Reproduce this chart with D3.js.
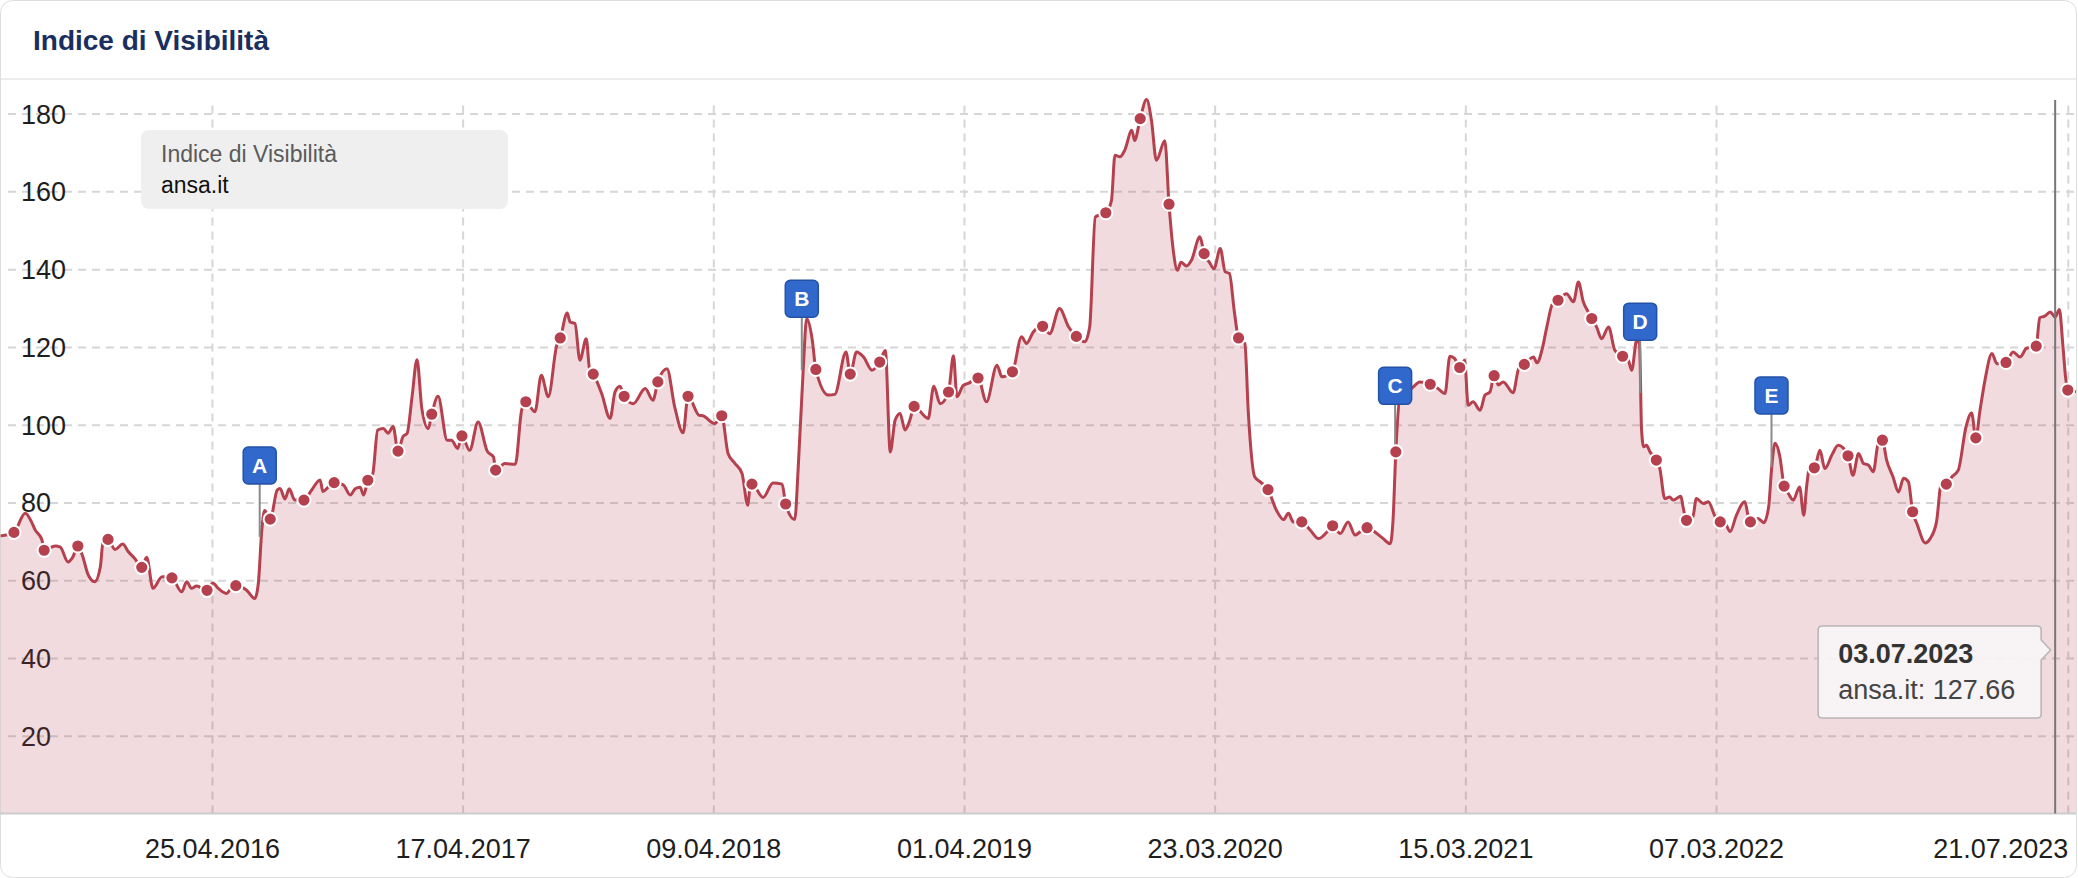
<!DOCTYPE html>
<html>
<head>
<meta charset="utf-8">
<script src="https://cdn.jsdelivr.net/npm/d3@7"></script>
<style>
  html, body { margin: 0; padding: 0; background: #fff; }
  svg { display: block; font-family: "Liberation Sans", Arial, Helvetica, sans-serif; }
</style>
</head>
<body>
<svg id="chart" width="2078" height="878"></svg>
<script>
// ---------------- DATA ----------------
const title = "Indice di Visibilità";
const seriesName = "ansa.it";

const dates = [
 "2015-06-29","2015-07-18","2015-08-03","2015-08-12","2015-08-17","2015-08-27","2015-08-30","2015-09-15","2015-09-22","2015-10-03",
 "2015-10-10","2015-10-17","2015-10-24","2015-10-31","2015-11-10","2015-11-18","2015-11-22","2015-11-29","2015-12-09","2015-12-20",
 "2015-12-28","2016-01-06","2016-01-16","2016-01-23","2016-02-01","2016-02-14","2016-02-28","2016-03-13","2016-03-20","2016-03-27",
 "2016-04-03","2016-04-18","2016-04-26","2016-05-04","2016-05-16","2016-05-21","2016-05-29","2016-06-13","2016-06-25","2016-06-30",
 "2016-07-05","2016-07-09","2016-07-17","2016-07-27","2016-07-31","2016-08-07","2016-08-13","2016-08-21","2016-09-03","2016-09-14",
 "2016-09-26","2016-09-30","2016-10-08","2016-10-16","2016-10-29","2016-11-08","2016-11-15","2016-11-22","2016-11-27","2016-12-03",
 "2016-12-10","2016-12-17","2016-12-25","2017-01-01","2017-01-08","2017-01-15","2017-01-22","2017-01-28","2017-02-04","2017-02-11",
 "2017-02-18","2017-02-27","2017-03-04","2017-03-13","2017-03-26","2017-04-01","2017-04-10","2017-04-16","2017-04-27","2017-05-09",
 "2017-05-22","2017-05-31","2017-06-03","2017-06-16","2017-07-01","2017-07-10","2017-07-16","2017-07-29","2017-08-07","2017-08-17",
 "2017-08-29","2017-09-03","2017-09-13","2017-09-17","2017-09-24","2017-10-01","2017-10-10","2017-10-15","2017-10-20","2017-11-01",
 "2017-11-13","2017-11-20","2017-11-27","2017-12-03","2017-12-16","2018-01-02","2018-01-13","2018-01-20","2018-02-02","2018-02-13",
 "2018-02-25","2018-03-04","2018-03-20","2018-03-25","2018-04-11","2018-04-21","2018-04-30","2018-05-10","2018-05-20","2018-05-28",
 "2018-05-31","2018-06-03","2018-06-19","2018-07-03","2018-07-16","2018-07-21","2018-08-03","2018-08-08","2018-08-15","2018-08-20",
 "2018-08-28","2018-09-02","2018-09-20","2018-09-29","2018-10-15","2018-10-21","2018-10-30","2018-11-09","2018-11-21","2018-12-02",
 "2018-12-10","2018-12-17","2018-12-24","2018-12-31","2019-01-07","2019-01-14","2019-01-20","2019-02-09","2019-02-17","2019-02-26",
 "2019-03-10","2019-03-17","2019-03-22","2019-03-31","2019-04-07","2019-04-21","2019-05-03","2019-05-18","2019-05-25","2019-06-09",
 "2019-06-22","2019-06-29","2019-07-09","2019-07-22","2019-08-01","2019-08-15","2019-08-28","2019-09-08","2019-09-20","2019-09-27",
 "2019-10-05","2019-10-11","2019-10-20","2019-10-28","2019-11-02","2019-11-09","2019-11-16","2019-11-26","2019-11-30","2019-12-08",
 "2019-12-17","2019-12-24","2019-12-31","2020-01-12","2020-01-18","2020-01-24","2020-01-30","2020-02-04","2020-02-12","2020-02-19",
 "2020-03-02","2020-03-08","2020-03-16","2020-03-22","2020-03-31","2020-04-07","2020-04-13","2020-04-20","2020-04-26","2020-05-05",
 "2020-05-10","2020-05-19","2020-05-27","2020-06-07","2020-06-19","2020-06-29","2020-07-06","2020-07-13","2020-07-25","2020-08-06",
 "2020-08-18","2020-08-30","2020-09-07","2020-09-18","2020-09-29","2020-10-09","2020-10-16","2020-10-26","2020-11-09","2020-11-18",
 "2020-11-28","2020-12-02","2020-12-06","2020-12-12","2020-12-21","2020-12-31","2021-01-09","2021-01-24","2021-02-04","2021-02-14",
 "2021-02-21","2021-02-28","2021-03-07","2021-03-14","2021-03-19","2021-03-26","2021-04-05","2021-04-12","2021-04-19","2021-04-25",
 "2021-05-01","2021-05-08","2021-05-22","2021-05-30","2021-06-07","2021-06-13","2021-06-20","2021-06-25","2021-07-02","2021-07-09",
 "2021-07-17","2021-07-25","2021-08-06","2021-08-16","2021-08-23","2021-08-30","2021-09-06","2021-09-11","2021-09-18","2021-09-25",
 "2021-10-05","2021-10-14","2021-10-25","2021-11-02","2021-11-07","2021-11-14","2021-11-18","2021-11-21","2021-11-24","2021-11-28",
 "2021-12-03","2021-12-12","2021-12-17","2021-12-24","2021-12-31","2022-01-05","2022-01-16","2022-01-19","2022-01-24","2022-02-02",
 "2022-02-07","2022-02-17","2022-02-24","2022-03-06","2022-03-13","2022-03-20","2022-03-27","2022-04-05","2022-04-17","2022-04-22",
 "2022-04-25","2022-05-06","2022-05-14","2022-05-21","2022-05-25","2022-05-30","2022-06-06","2022-06-12","2022-06-18","2022-06-25",
 "2022-07-04","2022-07-10","2022-07-14","2022-07-19","2022-07-25","2022-08-02","2022-08-09","2022-08-19","2022-08-28","2022-09-11",
 "2022-09-18","2022-09-26","2022-10-03","2022-10-10","2022-10-17","2022-10-24","2022-10-30","2022-11-05","2022-11-14","2022-11-22",
 "2022-11-29","2022-12-06","2022-12-12","2022-12-18","2022-12-30","2023-01-06","2023-01-15","2023-01-22","2023-01-29","2023-02-06",
 "2023-02-15","2023-02-26","2023-03-06","2023-03-12","2023-03-18","2023-03-25","2023-04-04","2023-04-11","2023-04-24","2023-05-04",
 "2023-05-14","2023-05-23","2023-06-06","2023-06-11","2023-06-18","2023-06-26","2023-07-03","2023-07-09","2023-07-14","2023-07-18",
 "2023-07-21","2023-08-02"
];

const values = [
 71.4,72.3,77.2,75.0,73.0,70.3,67.7,68.8,68.5,64.7,
 66.0,68.8,66.1,61.7,59.6,63.4,69.9,70.5,67.9,69.3,
 67.3,65.6,63.3,65.9,57.9,60.9,60.6,57.0,59.6,57.9,
 58.5,57.4,59.3,57.9,56.6,57.6,58.6,57.5,55.3,59.1,
 72.9,77.9,75.7,83.2,83.6,80.9,83.5,80.6,80.6,83.2,
 85.8,82.8,84.0,85.1,84.5,81.9,83.5,83.9,81.9,85.7,
 87.4,98.6,99.0,97.8,99.5,93.2,96.9,97.8,107.2,116.7,
 104.0,99.0,102.7,107.3,96.0,96.0,93.9,97.1,93.4,100.7,
 93.2,91.7,88.3,90.0,89.8,103.7,105.9,103.3,112.7,107.2,
 120.4,122.3,128.7,126.4,126.0,116.6,122.1,114.0,113.0,108.0,
 101.6,108.4,109.9,107.3,105.4,109.3,106.3,111.0,114.4,104.6,
 97.9,107.3,102.4,102.3,100.3,102.3,92.6,90.0,87.4,79.3,
 83.5,84.7,81.3,85.0,84.7,79.6,75.6,89.2,114.0,127.3,
 121.7,114.2,107.6,107.8,118.7,113.0,118.7,117.4,114.0,116.1,
 119.1,93.0,101.2,102.9,98.6,101.2,104.7,101.6,109.9,105.4,
 108.4,117.7,107.2,110.1,110.6,112.0,105.9,115.3,112.3,113.6,
 122.6,120.9,123.9,125.3,123.4,129.9,125.1,122.7,121.3,125.1,
 153.4,153.9,154.5,157.6,169.3,168.9,170.6,175.7,173.1,178.7,
 183.6,178.3,168.0,173.0,156.7,144.9,139.7,141.8,140.8,142.3,
 148.3,144.0,141.6,140.1,145.3,139.3,138.9,129.1,122.3,120.9,
 102.9,86.6,85.3,83.3,78.0,75.6,77.2,75.0,75.0,72.9,
 70.7,72.4,74.0,72.0,75.0,71.6,72.4,73.5,72.0,70.7,
 69.4,75.4,93.0,107.1,108.0,109.7,111.0,110.4,109.3,108.0,
 117.6,117.0,114.7,116.6,105.0,105.9,103.7,107.6,108.4,112.6,
 110.2,111.0,108.2,114.4,115.5,116.6,117.4,115.9,119.1,125.1,
 131.0,132.0,133.7,131.6,136.7,131.6,129.0,127.3,125.1,122.1,
 125.1,119.1,117.6,116.6,114.0,121.7,120.8,98.6,94.3,94.7,
 93.0,90.9,88.7,81.0,81.4,80.6,81.6,78.9,75.4,76.3,
 81.0,79.7,80.2,76.3,75.0,74.6,72.5,76.7,80.2,76.3,
 75.0,75.9,74.8,78.9,88.3,95.2,91.7,84.2,82.3,80.6,
 84.0,76.7,84.0,89.6,88.9,93.4,88.7,92.2,94.7,92.0,
 87.0,92.6,90.0,89.6,87.9,95.2,96.0,90.9,86.6,82.7,
 86.2,85.3,77.6,74.6,69.6,70.7,75.0,84.9,84.7,86.6,
 88.3,99.4,103.0,96.6,103.7,111.4,118.3,115.7,116.0,118.7,
 117.4,119.6,120.2,127.5,127.9,129.0,127.66,129.6,120.4,111.9,
 108.9,108.5
];

const markerDates = [
 "2015-07-18","2015-08-30","2015-10-17","2015-11-29","2016-01-16","2016-02-28","2016-04-18","2016-05-29","2016-07-17",
 "2016-09-03","2016-10-16","2016-12-03","2017-01-15","2017-03-04","2017-04-16","2017-06-03","2017-07-16","2017-09-03",
 "2017-10-20","2017-12-03","2018-01-20","2018-03-04","2018-04-21","2018-06-03","2018-07-21","2018-09-02","2018-10-21",
 "2018-12-02","2019-01-20","2019-03-10","2019-04-21","2019-06-09","2019-07-22","2019-09-08","2019-10-20","2019-12-08",
 "2020-01-18","2020-03-08","2020-04-26","2020-06-07","2020-07-25","2020-09-07","2020-10-26","2020-12-06","2021-01-24",
 "2021-03-07","2021-04-25","2021-06-07","2021-07-25","2021-09-11","2021-10-25","2021-12-12","2022-01-24","2022-03-13",
 "2022-04-25","2022-06-12","2022-07-25","2022-09-11","2022-10-30","2022-12-12","2023-01-29","2023-03-12","2023-04-24",
 "2023-06-06","2023-07-21"
];

const flagLetters = ["A","B","C","D","E"];
const flagDates   = ["2016-07-02","2018-08-13","2020-12-05","2021-11-19","2022-05-25"];
const flagValues  = [71.1, 114.0, 91.6, 108.1, 89.1];

const xTickDates = ["2016-04-25","2017-04-17","2018-04-09","2019-04-01","2020-03-23","2021-03-15","2022-03-07","2023-07-21"];
const yTicks = [20,40,60,80,100,120,140,160,180];
const xDomain = ["2015-06-29","2023-07-21"];
const yDomain = [0, 183.5];

const tooltipDate = "2023-07-03";

// ---------------- CHART ----------------
const W = 2078, H = 878;
const parse = d3.utcParse("%Y-%m-%d");
const fmt = d3.utcFormat("%d.%m.%Y");
const lineColor = "#b5404e";

const plot = {left: 0, right: 2076, top: 100, bottom: 813.5};

const x = d3.scaleUtc().domain(xDomain.map(parse)).range([0.6, 2067.8]);
const y = d3.scaleLinear().domain(yDomain).range([plot.bottom, plot.top]);

const data = dates.map((d, i) => ({date: parse(d), value: values[i]}));

const svg = d3.select("#chart");

// card
svg.append("rect").attr("x", 0.5).attr("y", 0.5).attr("width", 2076).attr("height", 877)
  .attr("rx", 12).attr("fill", "#fff").attr("stroke", "#dedede").attr("stroke-width", 1);
svg.append("line").attr("x1", 1).attr("x2", 2076).attr("y1", 79).attr("y2", 79)
  .attr("stroke", "#e6e6e6").attr("stroke-width", 1.5);
svg.append("text").attr("x", 33).attr("y", 50).text(title)
  .attr("font-size", 28).attr("font-weight", "bold").attr("fill", "#1a2f5e");

svg.append("defs").append("clipPath").attr("id", "plotclip")
  .append("rect").attr("x", plot.left).attr("y", plot.top - 10)
  .attr("width", plot.right - plot.left).attr("height", plot.bottom - plot.top + 10);

// y grid + labels
const gy = svg.append("g").attr("class", "y-axis")
  .call(d3.axisRight(y).tickValues(yTicks).tickSize(plot.right).tickFormat(d3.format("d")));
gy.select(".domain").remove();
gy.selectAll(".tick line").attr("stroke", "#d6d6d6").attr("stroke-width", 2).attr("stroke-dasharray", "8,6")
  .attr("x1", 8);
gy.selectAll(".tick text").attr("x", 21).attr("dy", "0.35em").attr("text-anchor", "start")
  .attr("font-size", 27).attr("fill", "#1e1e1e").attr("font-family", "Liberation Sans, Arial, sans-serif");

// x grid + labels
const gx = svg.append("g").attr("class", "x-axis").attr("transform", `translate(0,${plot.bottom})`)
  .call(d3.axisBottom(x).tickValues(xTickDates.map(parse)).tickSize(-(plot.bottom - plot.top)).tickFormat(fmt));
gx.select(".domain").remove();
gx.selectAll(".tick line").attr("stroke", "#d6d6d6").attr("stroke-width", 2).attr("stroke-dasharray", "8,6");
gx.selectAll(".tick text").attr("y", 44).attr("dy", 0)
  .attr("font-size", 27).attr("fill", "#1e1e1e").attr("font-family", "Liberation Sans, Arial, sans-serif")
  .attr("text-anchor", (d, i) => i === xTickDates.length - 1 ? "end" : "middle");

// area + line
const gPlot = svg.append("g").attr("clip-path", "url(#plotclip)");
const area = d3.area().x(d => x(d.date)).y0(y(0)).y1(d => y(d.value)).curve(d3.curveMonotoneX);
const line = d3.line().x(d => x(d.date)).y(d => y(d.value)).curve(d3.curveMonotoneX);
gPlot.append("path").datum(data).attr("d", area).attr("fill", lineColor).attr("fill-opacity", 0.19);
gPlot.append("path").datum(data).attr("d", line).attr("fill", "none")
  .attr("stroke", lineColor).attr("stroke-width", 3).attr("stroke-linejoin", "round");

// axis baseline
svg.append("line").attr("x1", 0).attr("x2", plot.right).attr("y1", plot.bottom).attr("y2", plot.bottom)
  .attr("stroke", "#cccccc").attr("stroke-width", 2);

// flags
const flags = flagLetters.map((l, i) => ({letter: l, date: parse(flagDates[i]), value: flagValues[i]}));
const gf = svg.append("g").selectAll("g").data(flags).join("g")
  .attr("transform", d => `translate(${x(d.date)},${y(d.value)})`);
gf.append("line").attr("x1", 0).attr("x2", 0).attr("y1", -53).attr("y2", 0)
  .attr("stroke", "#8a8a8a").attr("stroke-width", 2);
gf.append("rect").attr("x", -16.5).attr("y", -90).attr("width", 33).attr("height", 37).attr("rx", 5)
  .attr("fill", "#3068cc").attr("stroke", "#2352a6").attr("stroke-width", 1.5);
gf.append("text").attr("x", 0).attr("y", -64).attr("text-anchor", "middle").text(d => d.letter)
  .attr("font-size", 21).attr("font-weight", "bold").attr("fill", "#fff");

// markers
const markers = markerDates.map(md => data[dates.indexOf(md)]);
svg.append("g").attr("clip-path", "url(#plotclip)").selectAll("circle").data(markers).join("circle")
  .attr("cx", d => x(d.date)).attr("cy", d => y(d.value)).attr("r", 6.6)
  .attr("fill", lineColor).attr("stroke", "#fff").attr("stroke-width", 2);

// legend box
const lg = svg.append("g").attr("transform", "translate(141,130)");
lg.append("rect").attr("width", 367).attr("height", 79).attr("rx", 8).attr("fill", "#efefef");
lg.append("text").attr("x", 20).attr("y", 32).text(title).attr("font-size", 23).attr("fill", "#5a5a5a");
lg.append("text").attr("x", 20).attr("y", 63).text(seriesName).attr("font-size", 23).attr("fill", "#111");

// crosshair + tooltip
const tp = data[dates.indexOf(tooltipDate)];
const cx = x(tp.date);
svg.append("line").attr("x1", cx).attr("x2", cx).attr("y1", plot.top).attr("y2", plot.bottom)
  .attr("stroke", "#777").attr("stroke-width", 2);

const tR = cx - 14, tL = tR - 223, tT = 626, tB = 718, r = 4, ay = 650;
const tipPath = `M${tL + r},${tT} H${tR - r} Q${tR},${tT} ${tR},${tT + r} V${ay - 10} L${cx - 4.5},${ay} L${tR},${ay + 10} V${tB - r} Q${tR},${tB} ${tR - r},${tB} H${tL + r} Q${tL},${tB} ${tL},${tB - r} V${tT + r} Q${tL},${tT} ${tL + r},${tT} Z`;
svg.append("path").attr("d", tipPath).attr("fill", "#f8f5f5").attr("fill-opacity", 0.92)
  .attr("stroke", "#b5b5b5").attr("stroke-width", 1.5);
svg.append("text").attr("x", tL + 20).attr("y", 663).text(fmt(tp.date))
  .attr("font-size", 27).attr("font-weight", "bold").attr("fill", "#333");
svg.append("text").attr("x", tL + 20).attr("y", 699).text(`${seriesName}: ${tp.value.toFixed(2)}`)
  .attr("font-size", 27).attr("fill", "#444");
</script>
</body>
</html>
